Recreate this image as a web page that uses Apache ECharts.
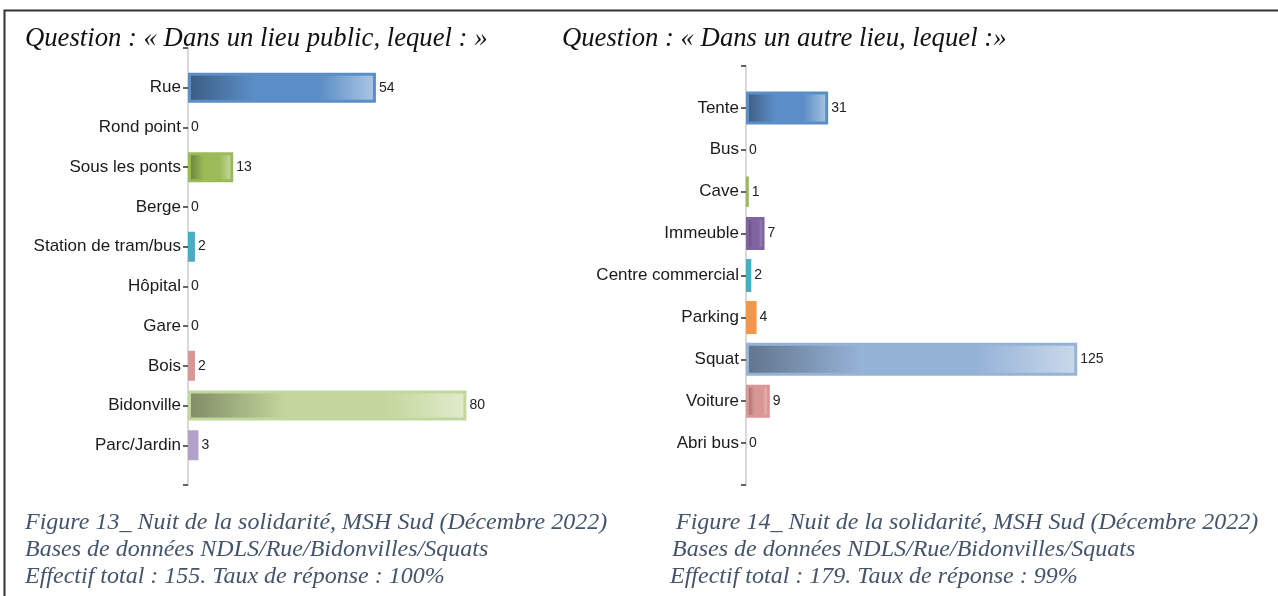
<!DOCTYPE html>
<html>
<head>
<meta charset="utf-8">
<script src="https://cdn.jsdelivr.net/npm/echarts@6/dist/echarts.min.js"></script>
<style>
  html, body { margin: 0; padding: 0; background: #fff; }
  #main { width: 1278px; height: 596px; }
</style>
</head>
<body>
<div id="main"></div>
<script>
// Question « Dans un lieu public »
const lieuxPublics = ['Rue', 'Rond point', 'Sous les ponts', 'Berge', 'Station de tram/bus', 'Hôpital', 'Gare', 'Bois', 'Bidonville', 'Parc/Jardin']
const effectifsPublics = [54, 0, 13, 0, 2, 0, 0, 2, 80, 3]

// Question « Dans un autre lieu »
const autresLieux = ['Tente', 'Bus', 'Cave', 'Immeuble', 'Centre commercial', 'Parking', 'Squat', 'Voiture', 'Abri bus']
const effectifsAutres = [31, 0, 1, 7, 2, 4, 125, 9, 0]

// palette (style only)
const palette = ['#5b8ec6', '#c0504d', '#9bbb59', '#8064a2', '#4bacc6', '#f79646', '#95b3d7', '#d99694', '#c3d69b', '#b3a2c7']

function mix (hex, target, t) {
  const a = parseInt(hex.slice(1), 16)
  const b = parseInt(target.slice(1), 16)
  const ch = (v, s) => (v >> s) & 255
  const r = Math.round(ch(a, 16) + (ch(b, 16) - ch(a, 16)) * t)
  const g = Math.round(ch(a, 8) + (ch(b, 8) - ch(a, 8)) * t)
  const bl = Math.round(ch(a, 0) + (ch(b, 0) - ch(a, 0)) * t)
  return 'rgb(' + r + ',' + g + ',' + bl + ')'
}

function barStyle (c, v) {
  return {
    color: new echarts.graphic.LinearGradient(0, 0, 1, 0, [
      { offset: 0, color: mix(c, '#000000', 0.35) },
      { offset: 0.35, color: c },
      { offset: 0.7, color: c },
      { offset: 1, color: mix(c, '#ffffff', 0.5) }
    ]),
    borderColor: c,
    borderWidth: v > 0 ? 3 : 0 // pas de trait pour les barres nulles
  }
}

function buildData (values) {
  const items = values.map((v, i) => ({ value: v, itemStyle: barStyle(palette[i], v) }))
  return ['-'].concat(items, ['-'])
}

const sans = 'Liberation Sans, Arial, sans-serif'
const serif = 'Liberation Serif, Times New Roman, serif'

function catAxis (gridIndex, cats) {
  return {
    type: 'category',
    gridIndex: gridIndex,
    inverse: true,
    boundaryGap: false,
    data: [''].concat(cats, ['']),
    axisLine: { lineStyle: { color: '#d9d9d9', width: 2 } },
    axisTick: { interval: 0, length: 5, lineStyle: { color: '#333', width: 1.5 } },
    axisLabel: { interval: 0, margin: 7, color: '#1a1a1a', fontSize: 17, fontFamily: sans }
  }
}

function valAxis (gridIndex, max) {
  return {
    type: 'value',
    gridIndex: gridIndex,
    min: 0,
    max: max,
    show: false
  }
}

function barSeries (idx, values, width) {
  return {
    type: 'bar',
    xAxisIndex: idx,
    yAxisIndex: idx,
    barWidth: width,
    data: buildData(values),
    label: {
      show: true,
      position: 'right',
      distance: 3,
      color: '#222',
      fontSize: 14,
      fontFamily: sans
    },
    emphasis: { disabled: true }
  }
}

function txt (x, y, s, size, color) {
  return {
    type: 'text',
    left: x,
    top: y,
    style: {
      text: s,
      fill: color,
      font: 'italic ' + size + 'px ' + serif
    }
  }
}

const capColor = '#44546a'

const chart = echarts.init(document.getElementById('main'))
chart.setOption({
  animation: false,
  grid: [
    { left: 188, top: 48, bottom: 111, width: 348 },
    { left: 746, top: 66, bottom: 111, width: 397.5 }
  ],
  xAxis: [valAxis(0, 100), valAxis(1, 150)],
  yAxis: [catAxis(0, lieuxPublics), catAxis(1, autresLieux)],
  series: [
    barSeries(0, effectifsPublics, 30),
    barSeries(1, effectifsAutres, 33)
  ],
  graphic: [
    {
      type: 'polyline',
      shape: { points: [[4.5, 596], [4.5, 10.5], [1278, 10.5]] },
      style: { stroke: '#333', lineWidth: 2, fill: null }
    },
    txt(25, 25, 'Question : « Dans un lieu public, lequel : »', 26.7, '#111'),
    txt(562, 25, 'Question : « Dans un autre lieu, lequel :»', 26.7, '#111'),
    txt(25, 511, 'Figure 13_ Nuit de la solidarité, MSH Sud (Décembre 2022)', 24, capColor),
    txt(25, 538, 'Bases de données NDLS/Rue/Bidonvilles/Squats', 24, capColor),
    txt(25, 565, 'Effectif total : 155. Taux de réponse : 100%', 24, capColor),
    txt(676, 511, 'Figure 14_ Nuit de la solidarité, MSH Sud (Décembre 2022)', 24, capColor),
    txt(672, 538, 'Bases de données NDLS/Rue/Bidonvilles/Squats', 24, capColor),
    txt(670, 565, 'Effectif total : 179. Taux de réponse : 99%', 24, capColor)
  ]
})
</script>
</body>
</html>
